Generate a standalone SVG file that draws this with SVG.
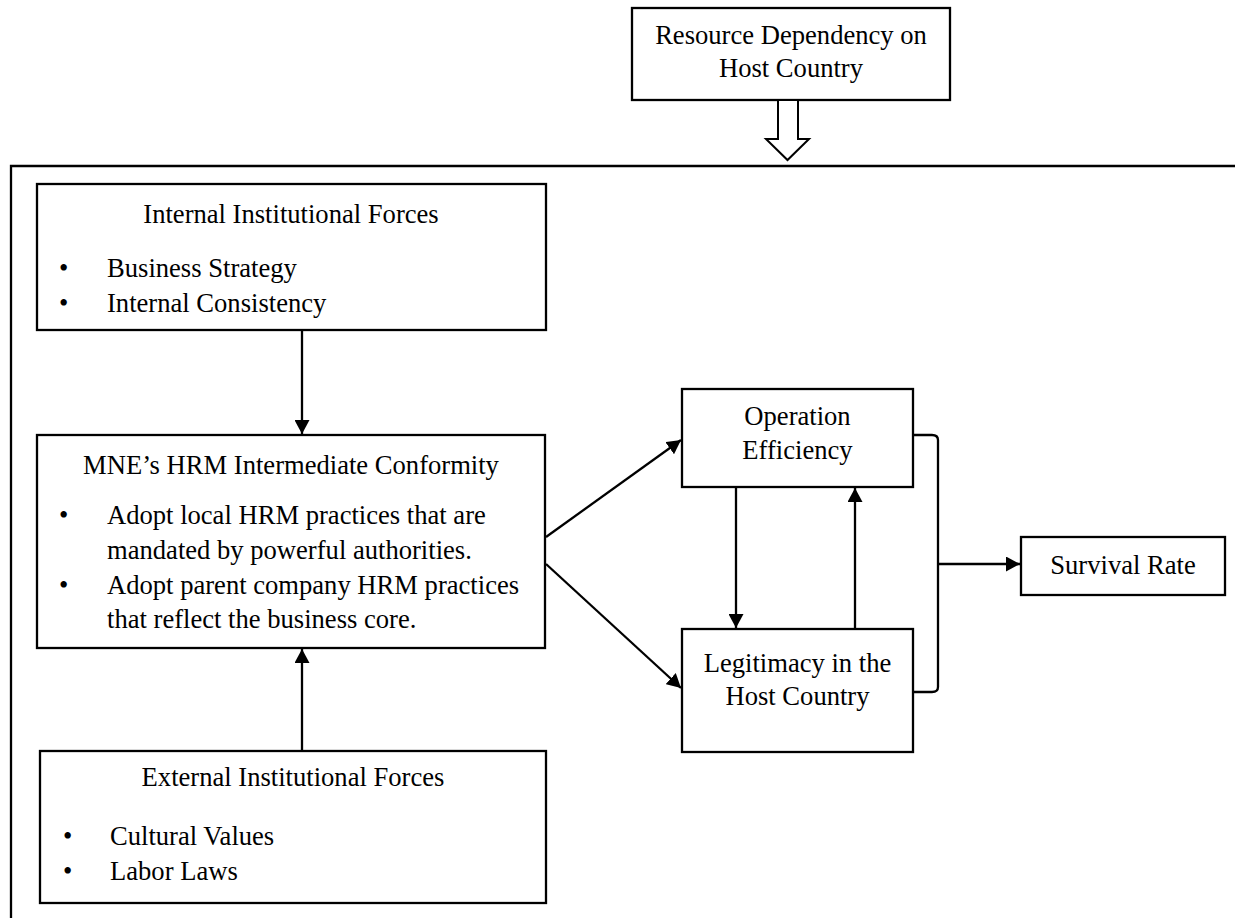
<svg xmlns="http://www.w3.org/2000/svg" width="1235" height="918" viewBox="0 0 1235 918">
<defs>
<style>
.box{fill:#fff;stroke:#000;stroke-width:2.3}
.t{font-family:"Liberation Serif","Times New Roman",serif;font-size:26.6px;fill:#000}
.c{text-anchor:middle}
.ln{fill:none;stroke:#000;stroke-width:2.3}
</style>
<marker id="ah" viewBox="0 0 14 15" refX="14" refY="7.5" markerWidth="14" markerHeight="15" markerUnits="userSpaceOnUse" orient="auto">
<path d="M0,0 L14,7.5 L0,15 Z" fill="#000"/>
</marker>
</defs>
<rect width="1235" height="918" fill="#fff"/>
<g id="frame">
<path class="ln" d="M11,918 L11,166 L1235,166"/>
</g>
<g id="resource">
<rect class="box" x="632" y="8" width="318" height="92"/>
<text class="t c" x="791" y="44">Resource Dependency on</text>
<text class="t c" x="791" y="77">Host Country</text>
</g>
<g id="internal">
<rect class="box" x="37" y="184" width="509" height="146"/>
<text class="t c" x="291" y="223">Internal Institutional Forces</text>
<text class="t" x="59" y="277">•</text><text class="t" x="107" y="277">Business Strategy</text>
<text class="t" x="59" y="312">•</text><text class="t" x="107" y="312">Internal Consistency</text>
</g>
<g id="mne">
<rect class="box" x="37" y="435" width="508" height="213"/>
<text class="t c" x="291" y="474">MNE’s HRM Intermediate Conformity</text>
<text class="t" x="59" y="524">•</text><text class="t" x="107" y="524">Adopt local HRM practices that are</text>
<text class="t" x="107" y="559">mandated by powerful authorities.</text>
<text class="t" x="59" y="594">•</text><text class="t" x="107" y="594">Adopt parent company HRM practices</text>
<text class="t" x="107" y="628">that reflect the business core.</text>
</g>
<g id="external">
<rect class="box" x="40" y="751" width="506" height="152"/>
<text class="t c" x="293" y="786">External Institutional Forces</text>
<text class="t" x="63" y="845">•</text><text class="t" x="110" y="845">Cultural Values</text>
<text class="t" x="63" y="880">•</text><text class="t" x="110" y="880">Labor Laws</text>
</g>
<g id="operation">
<rect class="box" x="682" y="389" width="231" height="98"/>
<text class="t c" x="797.5" y="425">Operation</text>
<text class="t c" x="797.5" y="459">Efficiency</text>
</g>
<g id="legitimacy">
<rect class="box" x="682" y="629" width="231" height="123"/>
<text class="t c" x="797.5" y="672">Legitimacy in the</text>
<text class="t c" x="797.5" y="705">Host Country</text>
</g>
<g id="survival">
<rect class="box" x="1021" y="537" width="204" height="58"/>
<text class="t c" x="1123" y="574">Survival Rate</text>
</g>
<g id="connectors">
<polygon points="778,100 778,139 766,139 787.5,160 809,139 798,139 798,100" fill="#fff" stroke="#000" stroke-width="2"/>
<line class="ln" x1="302" y1="330" x2="302" y2="434" marker-end="url(#ah)"/>
<line class="ln" x1="302" y1="751" x2="302" y2="649" marker-end="url(#ah)"/>
<line class="ln" x1="546" y1="537" x2="681" y2="440" marker-end="url(#ah)"/>
<line class="ln" x1="546" y1="564" x2="681" y2="688" marker-end="url(#ah)"/>
<line class="ln" x1="736" y1="487" x2="736" y2="628" marker-end="url(#ah)"/>
<line class="ln" x1="855" y1="629" x2="855" y2="488" marker-end="url(#ah)"/>
<path class="ln" d="M913,435 L932,435 Q938,435 938,440 L938,687 Q938,692 932,692 L913,692"/>
<line class="ln" x1="938" y1="564" x2="1020" y2="564" marker-end="url(#ah)"/>
</g>
</svg>
